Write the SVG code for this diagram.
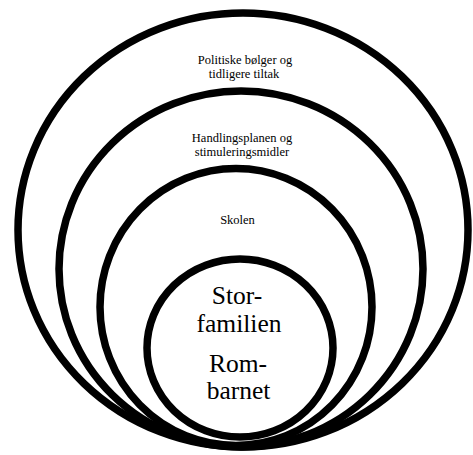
<svg xmlns="http://www.w3.org/2000/svg" width="473" height="455" viewBox="0 0 473 455">
<style>
.ring{fill:#fff;stroke:#000;stroke-width:7.5}
.s{font-family:"Liberation Serif","DejaVu Serif",serif;font-size:12.5px;fill:#000;text-anchor:middle}
.b{font-family:"Liberation Serif","DejaVu Serif",serif;font-size:25.5px;fill:#000;text-anchor:middle}
</style>
<rect width="473" height="455" fill="#fff"/>
<g id="politiske">
<ellipse class="ring" cx="243" cy="230" rx="225" ry="217"/>
<text class="s" x="245" y="63.5">Politiske bølger og</text>
<text class="s" x="244" y="77.5">tidligere tiltak</text>
</g>
<g id="handlingsplanen">
<ellipse class="ring" cx="241" cy="269" rx="182" ry="178"/>
<text class="s" x="242" y="141.5">Handlingsplanen og</text>
<text class="s" x="242" y="155.5">stimuleringsmidler</text>
</g>
<g id="skolen">
<ellipse class="ring" cx="236" cy="307" rx="136" ry="138.5"/>
<text class="s" x="237.5" y="224">Skolen</text>
</g>
<g id="storfamilien">
<ellipse class="ring" cx="240" cy="348" rx="93" ry="89"/>
<text class="b" x="237" y="304">Stor-</text>
<text class="b" x="239" y="331.5">familien</text>
<text class="b" x="238" y="371.5">Rom-</text>
<text class="b" x="238.5" y="399">barnet</text>
</g>
<g id="connectors"></g>
</svg>
